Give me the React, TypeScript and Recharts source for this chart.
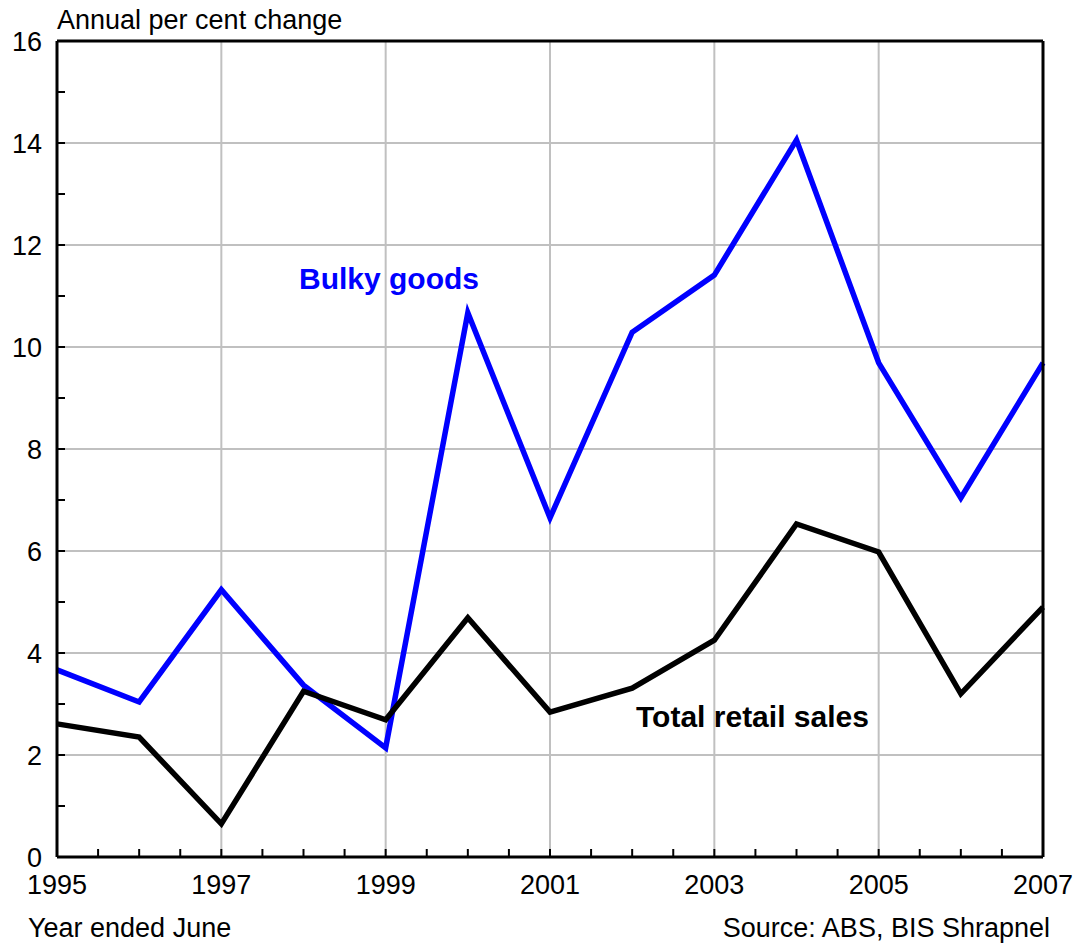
import { Line, LineChart, ReferenceLine, XAxis, YAxis } from "recharts";

const years = [1995, 1996, 1997, 1998, 1999, 2000, 2001, 2002, 2003, 2004, 2005, 2006, 2007];
const bulkyGoods = [3.67, 3.04, 5.24, 3.37, 2.14, 10.67, 6.65, 10.29, 11.41, 14.06, 9.69, 7.04, 9.69];
const totalRetail = [2.61, 2.35, 0.65, 3.25, 2.69, 4.69, 2.84, 3.31, 4.25, 6.53, 5.98, 3.2, 4.9];

const xTicks = [
  1995, 1995.5, 1996, 1996.5, 1997, 1997.5, 1998, 1998.5, 1999, 1999.5, 2000, 2000.5,
  2001, 2001.5, 2002, 2002.5, 2003, 2003.5, 2004, 2004.5, 2005, 2005.5, 2006, 2006.5, 2007,
];
const xLabels = [1995, 1997, 1999, 2001, 2003, 2005, 2007];
const yTicks = [0, 1, 2, 3, 4, 5, 6, 7, 8, 9, 10, 11, 12, 13, 14, 15, 16];
const yLabels = [0, 2, 4, 6, 8, 10, 12, 14, 16];
const gridYears = [1997, 1999, 2001, 2003, 2005];
const gridValues = [2, 4, 6, 8, 10, 12, 14];

const data = years.map((year, i) => ({
  year,
  bulky: bulkyGoods[i],
  total: totalRetail[i],
}));

const font = "'Liberation Sans', Arial, sans-serif";
const X_GAP = 18;
const Y_GAP = 15;

// tick marks point into the plot, so draw them here instead of with tickLine
const XTick = (props: any) => {
  const { x, y, payload } = props;
  const axisY = y - X_GAP;
  return (
    <g>
      <line x1={x} x2={x} y1={axisY} y2={axisY - 8} stroke="#000" strokeWidth={2} />
      {xLabels.includes(payload.value) && (
        <text x={x} y={y} dy="0.71em" textAnchor="middle" fontSize={27} fontFamily={font} fill="#000">
          {payload.value}
        </text>
      )}
    </g>
  );
};

const YTick = (props: any) => {
  const { x, y, payload } = props;
  const axisX = x + Y_GAP;
  return (
    <g>
      <line x1={axisX} x2={axisX + 8} y1={y} y2={y} stroke="#000" strokeWidth={2} />
      {yLabels.includes(payload.value) && (
        <text x={x} y={y} dy="0.355em" textAnchor="end" fontSize={27} fontFamily={font} fill="#000">
          {payload.value}
        </text>
      )}
    </g>
  );
};

const txt = (extra: any) => ({
  position: "absolute" as const,
  fontFamily: font,
  fontSize: 27,
  lineHeight: "27px",
  whiteSpace: "nowrap" as const,
  ...extra,
});

export default function App() {
  return (
    <div style={{ position: "absolute", left: 0, top: 0, width: 1074, height: 943, background: "#fff" }}>
      <LineChart width={1074} height={943} data={data} margin={{ top: 41, right: 31, left: 0, bottom: 0 }}>
        <XAxis
          dataKey="year"
          type="number"
          domain={[1995, 2007]}
          ticks={xTicks}
          interval={0}
          height={86}
          tickSize={0}
          tickMargin={X_GAP}
          tick={<XTick />}
          axisLine={{ stroke: "#000", strokeWidth: 3 }}
          tickLine={false}
        />
        <YAxis
          type="number"
          domain={[0, 16]}
          ticks={yTicks}
          interval={0}
          width={57}
          tickSize={0}
          tickMargin={Y_GAP}
          tick={<YTick />}
          axisLine={{ stroke: "#000", strokeWidth: 3 }}
          tickLine={false}
        />
        {gridYears.map((y) => (
          <ReferenceLine key={"gx" + y} x={y} stroke="#c0c0c0" strokeWidth={2} />
        ))}
        {gridValues.map((v) => (
          <ReferenceLine key={"gy" + v} y={v} stroke="#c0c0c0" strokeWidth={2} />
        ))}
        <Line
          dataKey="bulky"
          stroke="#0000ff"
          strokeWidth={5.5}
          dot={false}
          type="linear"
          isAnimationActive={false}
        />
        <Line
          dataKey="total"
          stroke="#000"
          strokeWidth={5.5}
          dot={false}
          type="linear"
          isAnimationActive={false}
        />
        <ReferenceLine y={16} stroke="#000" strokeWidth={3} />
        <ReferenceLine x={2007} stroke="#000" strokeWidth={3} />
      </LineChart>
      <div style={txt({ left: 57, top: 7 })}>Annual per cent change</div>
      <div style={txt({ left: 28, top: 915 })}>Year ended June</div>
      <div style={txt({ right: 24, top: 915 })}>Source: ABS, BIS Shrapnel</div>
      <div style={txt({ left: 299, top: 264, color: "#0000ff", fontWeight: "bold", fontSize: 30, lineHeight: "30px" })}>
        Bulky goods
      </div>
      <div style={txt({ left: 636, top: 702, color: "#000", fontWeight: "bold", fontSize: 30, lineHeight: "30px" })}>
        Total retail sales
      </div>
    </div>
  );
}
